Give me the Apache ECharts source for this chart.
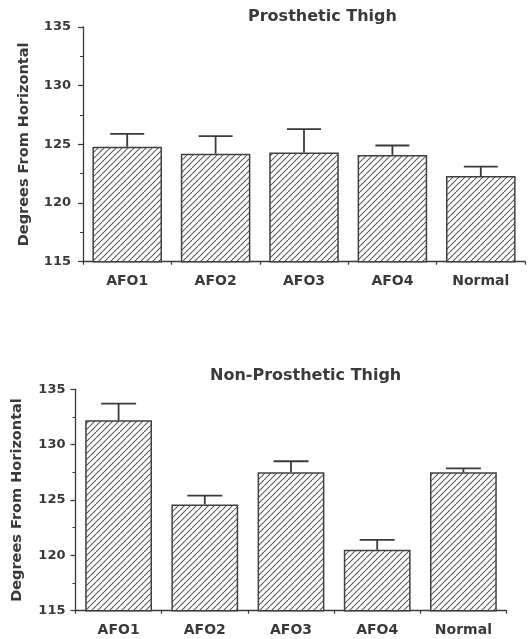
<!DOCTYPE html>
<html>
<head>
<meta charset="utf-8">
<title>Thigh Angle by Orthosis</title>
<script src="https://cdn.jsdelivr.net/npm/echarts@6/dist/echarts.min.js"></script>
<style>
  html, body { margin: 0; padding: 0; background: #fff; }
  #chart { width: 530px; height: 639px; }
</style>
</head>
<body>
<div id="chart"></div>
<script>
// Conditions compared
const categories = ['AFO1', 'AFO2', 'AFO3', 'AFO4', 'Normal'];

// Mean thigh angle (degrees from horizontal) and upper error (SE)
const prostheticMean = [124.8, 124.2, 124.3, 124.1, 122.3];
const prostheticErr = [1.1, 1.5, 2.0, 0.8, 0.8];
const nonProstheticMean = [132.2, 124.6, 127.5, 120.5, 127.5];
const nonProstheticErr = [1.5, 0.8, 1.0, 0.9, 0.35];

// Value axis range
const yMin = 115;
const yMax = 135;
const yStep = 5;

const titles = ['Prosthetic Thigh', 'Non-Prosthetic Thigh'];
const yName = 'Degrees From Horizontal';

const INK = '#3a3a3a';
const FONT = 'DejaVu Sans';

// Diagonal hatch tile used as the bar fill
function hatchTile(size) {
  const c = document.createElement('canvas');
  c.width = size; c.height = size;
  const g = c.getContext('2d');
  g.fillStyle = '#ffffff';
  g.fillRect(0, 0, size, size);
  g.strokeStyle = '#5a5a5a';
  g.lineWidth = 1.1;
  for (let k = -1; k <= 1; k++) {
    g.beginPath();
    g.moveTo(k * size, size);
    g.lineTo(k * size + size, 0);
    g.stroke();
  }
  return c;
}
const hatch = { image: hatchTile(6), repeat: 'repeat' };

function errorItems(means, errs) {
  return means.map((m, i) => [i, m, m + errs[i]]);
}

function errorRenderer(capWidth) {
  return function (params, api) {
    const idx = api.value(0);
    const base = api.coord([idx, api.value(1)]);
    const top = api.coord([idx, api.value(2)]);
    const half = capWidth / 2;
    const style = { stroke: INK, lineWidth: 1.8 };
    return {
      type: 'group',
      children: [
        { type: 'line', shape: { x1: base[0], y1: base[1], x2: top[0], y2: top[1] }, style },
        { type: 'line', shape: { x1: top[0] - half, y1: top[1], x2: top[0] + half, y2: top[1] }, style }
      ]
    };
  };
}

function valueAxis(gridIndex, labelMargin, nameGap) {
  return {
    type: 'value',
    gridIndex,
    min: yMin,
    max: yMax,
    interval: yStep,
    name: yName,
    nameLocation: 'middle',
    nameGap,
    nameRotate: 90,
    nameTextStyle: { fontFamily: FONT, fontWeight: 'bold', fontSize: 14.5, color: INK },
    axisLine: { show: true, lineStyle: { color: INK, width: 1.3 } },
    axisTick: { show: true, length: 5, lineStyle: { color: INK, width: 1.2 } },
    minorTick: { show: true, splitNumber: 2, length: 3, lineStyle: { color: INK, width: 1 } },
    splitLine: { show: false },
    axisLabel: { margin: labelMargin, fontFamily: FONT, fontWeight: 'bold', fontSize: 13, color: INK }
  };
}

function categoryAxis(gridIndex) {
  return {
    type: 'category',
    gridIndex,
    data: categories,
    axisLine: { show: true, lineStyle: { color: INK, width: 1.3 } },
    axisTick: { show: true, length: 3, interval: 0, lineStyle: { color: INK, width: 1.2 } },
    axisLabel: { margin: 13, interval: 0, fontFamily: FONT, fontWeight: 'bold', fontSize: 14, color: INK }
  };
}

function barSeries(axisIndex, values, gap) {
  return {
    type: 'bar',
    xAxisIndex: axisIndex,
    yAxisIndex: axisIndex,
    data: values,
    barCategoryGap: gap,
    itemStyle: { color: hatch, borderColor: '#404040', borderWidth: 1.5 },
    silent: true,
    z: 2
  };
}

function errorSeries(axisIndex, means, errs, capWidth) {
  return {
    type: 'custom',
    xAxisIndex: axisIndex,
    yAxisIndex: axisIndex,
    data: errorItems(means, errs),
    encode: { x: 0, y: [1, 2] },
    renderItem: errorRenderer(capWidth),
    silent: true,
    z: 3
  };
}

const chart = echarts.init(document.getElementById('chart'), null, { renderer: 'canvas' });

chart.setOption({
  backgroundColor: '#ffffff',
  animation: false,
  title: [
    { text: titles[0], left: 243, top: 4,
      textStyle: { fontFamily: FONT, fontWeight: 'bold', fontSize: 16, color: INK } },
    { text: titles[1], left: 205, top: 363,
      textStyle: { fontFamily: FONT, fontWeight: 'bold', fontSize: 16, color: INK } }
  ],
  grid: [
    { left: 83, right: 5, top: 27, bottom: 377.3 },
    { left: 75.5, right: 23.5, top: 389.3, bottom: 28.3 }
  ],
  xAxis: [categoryAxis(0), categoryAxis(1)],
  yAxis: [valueAxis(0, 12, 51), valueAxis(1, 10, 51)],
  series: [
    barSeries(0, prostheticMean, '21.3%'),
    errorSeries(0, prostheticMean, prostheticErr, 34),
    barSeries(1, nonProstheticMean, '22.5%'),
    errorSeries(1, nonProstheticMean, nonProstheticErr, 35)
  ]
});
</script>
</body>
</html>
